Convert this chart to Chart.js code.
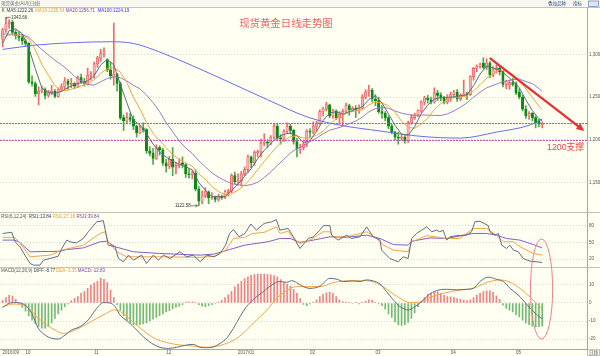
<!DOCTYPE html>
<html><head><meta charset="utf-8">
<script src="https://cdn.jsdelivr.net/npm/chart.js"></script>
<style>html,body{margin:0;padding:0;background:#fffff2;overflow:hidden}canvas{display:block}</style>
</head><body>
<canvas id="c" width="600" height="356"></canvas>
<script>
// ---------- candles (index 0 = 2016-09-22, one per trading day) ----------
const opens = [1318,1329,1336,1338,1326,1322,1320,1316,1313,1268, 1266,1254,1257,1259,1252,1255,1257,1251,1259,1262,
1269,1265,1266,1263,1273,1268,1266,1276,1277,1289, 1296,1301,1294,1282,1274,1277,1266,1226,1222,1226,
1224,1216,1208,1214,1212,1187,1184,1178,1191,1188, 1173,1169,1177,1168,1170,1173,1171,1160,1159,1161,
1142,1128,1134,1139,1132,1133,1130,1133,1132,1138, 1140,1158,1151,1152,1160,1165,1180,1173,1185,1186,
1196,1197,1196,1203,1216,1202,1201,1210,1216,1211, 1198,1189,1191,1195,1210,1209,1216,1219,1233,1236,
1241,1228,1234,1226,1230,1233,1240,1235,1237,1235, 1237,1250,1256,1258,1248,1246,1233,1231,1226,1216,
1209,1203,1202,1203,1199,1220,1226,1229,1234,1244, 1249,1247,1244,1255,1252,1249,1244,1249,1253,1256,
1248,1252,1254,1253,1274,1284,1286,1290,1285,1290, 1276,1282,1284,1280,1265,1264,1267,1266,1256,1250,
1236,1228,1231,1226,1222,1218];
const highs = [1331,1343.66,1341,1340,1329,1327,1324,1318,1314,1275, 1268,1262,1263,1261,1258,1264,1259,1261,1266,1273,
1271,1272,1267,1275,1277,1272,1284,1280,1291,1298, 1306,1308,1295,1291,1337,1278,1268,1229,1232,1231,
1228,1217,1217,1220,1213,1192,1190,1194,1193,1190, 1177,1181,1191,1173,1178,1180,1172,1166,1164,1165,
1145,1140,1144,1140,1138,1134,1136,1135,1141,1142, 1160,1162,1160,1163,1168,1182,1181,1187,1188,1201,
1207,1200,1205,1219,1218,1206,1212,1220,1218,1212, 1202,1195,1198,1212,1213,1221,1222,1235,1238,1244,
1242,1236,1235,1233,1236,1243,1242,1239,1240,1241, 1253,1259,1264,1260,1253,1250,1240,1233,1228,1218,
1210,1209,1206,1205,1222,1230,1231,1235,1246,1251, 1252,1250,1261,1258,1255,1251,1253,1256,1258,1259,
1254,1270,1256,1275,1285,1288,1290,1296,1295,1292, 1286,1288,1286,1281,1270,1270,1272,1268,1260,1252,
1240,1233,1232,1228,1224,1221];
const lows = [1309,1326,1331,1323,1318,1316,1312,1310,1266,1263, 1251,1241,1255,1248,1250,1253,1249,1250,1257,1260,
1259,1261,1260,1261,1266,1263,1264,1270,1272,1285, 1292,1297,1280,1271,1264,1257,1224,1211,1220,1221,
1212,1203,1207,1209,1184,1181,1171,1177,1182,1170, 1162,1166,1158,1160,1167,1167,1156,1155,1154,1140,
1122.58,1125,1132,1125,1130,1127,1128,1130,1131,1134, 1138,1148,1147,1146,1158,1162,1167,1170,1180,1180,
1193,1191,1194,1201,1199,1195,1198,1208,1207,1195, 1180,1184,1188,1192,1202,1207,1210,1218,1228,1234,
1226,1225,1224,1219,1217,1232,1229,1233,1226,1231, 1236,1248,1251,1244,1240,1231,1225,1222,1213,1207,
1200,1195,1200,1196,1197,1218,1224,1227,1232,1241, 1243,1242,1243,1246,1246,1242,1242,1245,1250,1245,
1246,1251,1247,1252,1270,1280,1284,1283,1282,1273, 1274,1278,1276,1262,1260,1259,1263,1253,1248,1234,
1225,1224,1222,1214,1215,1214];
const closes = [1329,1336,1338,1326,1322,1320,1316,1313,1268,1266, 1254,1257,1259,1252,1255,1257,1251,1259,1262,1269,
1265,1266,1263,1273,1268,1266,1276,1277,1289,1296, 1301,1304,1282,1275,1277,1266,1226,1222,1226,1224,
1216,1208,1214,1212,1187,1184,1178,1191,1188,1173, 1169,1177,1168,1170,1173,1171,1160,1159,1161,1142,
1128,1134,1139,1132,1133,1130,1133,1132,1139,1140, 1158,1151,1152,1160,1165,1180,1173,1185,1186,1196,
1197,1196,1203,1216,1202,1201,1210,1216,1211,1198, 1189,1191,1195,1210,1209,1216,1219,1233,1236,1241,
1228,1234,1226,1230,1233,1240,1235,1237,1235,1237, 1250,1256,1258,1248,1246,1233,1231,1226,1216,1209,
1203,1202,1203,1199,1220,1226,1229,1234,1244,1249, 1247,1244,1255,1252,1249,1244,1249,1253,1256,1248,
1252,1254,1253,1274,1284,1286,1288,1285,1290,1276, 1282,1284,1280,1265,1268,1267,1265,1255,1250,1236,
1228,1231,1226,1220,1219,1219];

// ---------- moving averages: [index, value] ----------
const ma5Points = [[0,1313],[2,1328],[4,1330.2],[6,1324.4],[8,1307.8],[10,1283.4],[12,1260.8],[14,1255.4],[16,1254.8],[18,1256.8],[20,1261.2],[22,1265],[24,1267],[26,1269.2],[28,1275.2],[30,1287.8],[32,1294.4],[34,1287.8],[36,1265.2],[38,1243.4],[40,1222.8],[42,1217.6],[44,1207.4],[46,1195],[48,1185.6],[50,1179.8],[52,1175],[54,1171.4],[56,1168.4],[58,1164.8],[60,1150],[62,1140.8],[64,1133.2],[66,1133.4],[68,1133.4],[70,1140.4],[72,1148],[74,1157.2],[76,1166],[78,1177.8],[80,1187.4],[82,1195.6],[84,1202.8],[86,1206.4],[88,1208],[90,1204.8],[92,1196.8],[94,1198.8],[96,1209.8],[98,1222.6],[100,1231.4],[102,1233],[104,1230.2],[106,1232.8],[108,1236],[110,1238.8],[112,1247.2],[114,1251.6],[116,1243.2],[118,1230.4],[120,1217],[122,1206.6],[124,1205.4],[126,1215.4],[128,1230.6],[130,1240.6],[132,1247.8],[134,1249.4],[136,1249.8],[138,1250.2],[140,1251.6],[142,1252.6],[144,1263.4],[146,1277],[148,1286.6],[150,1284.2],[152,1282.4],[154,1275.8],[156,1269],[158,1261],[160,1246.8],[162,1234.2],[164,1224.8],[165,1222.26]];
const ma10Points = [[0,1320],[2,1323],[4,1323],[6,1323],[8,1318.4],[10,1305.3],[12,1288.5],[14,1275.5],[16,1263.5],[18,1257.5],[20,1258.2],[22,1260.4],[24,1263],[26,1266.2],[28,1270.6],[30,1278],[32,1283.3],[34,1284.7],[36,1279.3],[38,1267.2],[40,1249.7],[42,1236],[44,1220.3],[46,1207.6],[48,1199],[50,1190.5],[52,1182.7],[54,1177],[56,1172.9],[58,1169],[60,1160],[62,1153.7],[64,1145.3],[66,1139.4],[68,1135.2],[70,1136.9],[72,1140.7],[74,1147],[76,1155.1],[78,1165.2],[80,1174.5],[82,1183.8],[84,1192.7],[86,1199],[88,1203.6],[90,1204.7],[92,1202],[94,1202.6],[96,1205.3],[98,1210.2],[100,1217.9],[102,1224.6],[104,1228.6],[106,1232.5],[108,1233.8],[110,1235.2],[112,1240.8],[114,1244.5],[116,1243.1],[118,1239.9],[120,1232.2],[122,1221.7],[124,1214.5],[126,1213.6],[128,1218.3],[130,1225.5],[132,1235.4],[134,1242.5],[136,1247],[138,1249.4],[140,1250.6],[142,1251.3],[144,1257.2],[146,1264.6],[148,1272.3],[150,1277.2],[152,1282.1],[154,1280.6],[156,1276.2],[158,1270],[160,1259.6],[162,1249.6],[164,1239.4],[165,1235.54]];
const ma20Points = [[0,1324],[2,1324],[4,1323.5],[6,1323.5],[8,1320.2],[10,1312.7],[12,1305.8],[14,1299.5],[16,1293.3],[18,1288],[20,1281.8],[22,1274.5],[24,1269.3],[26,1264.9],[28,1264.1],[30,1268.1],[32,1271.9],[34,1273.9],[36,1272.8],[38,1268.9],[40,1263.9],[42,1259.7],[44,1252.5],[46,1243.5],[48,1233.1],[50,1220.1],[52,1209.4],[54,1198.7],[56,1190.3],[58,1184],[60,1175.3],[62,1168.2],[64,1161.2],[66,1156.2],[68,1152.1],[70,1148.5],[72,1147.2],[74,1146.2],[76,1147.3],[78,1150.2],[80,1155.7],[82,1162.3],[84,1169.9],[86,1177.1],[88,1184.4],[90,1189.6],[92,1192.9],[94,1197.7],[96,1202.2],[98,1206.9],[100,1211.3],[102,1213.3],[104,1215.6],[106,1218.9],[108,1222],[110,1226.6],[112,1232.7],[114,1236.6],[116,1237.8],[118,1236.9],[120,1233.7],[122,1231.3],[124,1229.5],[126,1228.4],[128,1229.1],[130,1228.9],[132,1228.6],[134,1228.5],[136,1230.3],[138,1233.9],[140,1238.1],[142,1243.4],[144,1249.9],[146,1255.8],[148,1260.9],[150,1263.9],[152,1266.7],[154,1268.9],[156,1270.4],[158,1271.2],[160,1268.4],[162,1265.9],[164,1260],[165,1256.71]];
const ma100Points = [[0,1306],[10,1311],[22,1314],[33,1315],[40,1313],[48,1303],[58,1287],[69,1268],[81,1247],[93,1227],[102,1218],[116,1210],[128,1204],[140,1202],[151,1209],[161,1217],[165,1224.19]];

// ---------- RSI(6,12,24) ----------
const rsi6Points = [[0,66],[2.8,68],[3.8,51],[5.3,42],[6.8,27],[8.4,12],[9.4,9],[11.4,9],[12.5,18],[14.5,21],[17,25],[18.1,39],[19.6,54],[20.6,51],[22.6,49],[24.7,57],[26.2,69],[28.8,87],[30.8,89],[31.6,66],[32.3,45],[34.4,42],[35.4,21],[36.9,15],[38.5,27],[40,18],[42.5,27],[44,12],[46.1,27],[47.6,18],[49.2,27],[51.2,21],[54.2,33],[56.3,24],[58.3,27],[60.4,15],[62.4,27],[64.7,24],[66.5,30],[68.2,45],[69.4,66],[70.6,73],[72.3,60],[74.1,66],[75.9,83],[77.6,72],[80,84],[82.3,87],[83.7,91],[84.8,72],[87.3,75],[88.9,60],[90.9,39],[93.5,57],[95,60],[97,72],[98.1,80],[100.1,80],[100.6,63],[102.6,54],[105.2,63],[106.7,57],[109.3,60],[111.3,78],[112.3,69],[113.3,60],[115.4,54],[115.9,36],[118.4,21],[121,15],[122.5,24],[124,21],[125.1,57],[126.6,66],[129.7,78],[131.2,69],[132.7,72],[133.7,69],[134.7,72],[135.8,54],[136.8,60],[138.8,62],[141.9,63],[143.4,69],[144.4,87],[146,88],[148.5,80],[149,69],[150.5,63],[151.6,66],[152.6,45],[154.1,39],[155.1,45],[156.2,36],[157.7,33],[159.2,21],[161.3,16],[163.3,15],[165,13.84]];
const rsi12Points = [[0,59],[3.5,59],[5,51],[8.4,24],[14.5,27],[18.1,36],[24.7,45],[29.8,66],[31.3,69],[32.3,51],[34.9,33],[37.9,24],[48,24],[60.4,23],[64.7,25],[68.2,36],[70.6,57],[74.1,59],[76.4,66],[80,68],[83.7,78],[84.8,66],[87.3,70],[88.9,57],[90.9,48],[93.9,54],[98,69],[100.1,69],[101.1,60],[105.2,60],[111.3,69],[114.4,57],[116.4,45],[119.5,36],[124,33],[125.1,51],[129.7,62],[135.8,57],[139.8,57],[143.9,75],[148,75],[151,63],[153.1,51],[156.2,51],[158.2,42],[162.3,30],[165,27.18]];
const rsi24Points = [[0,54],[3.6,54],[5,51],[8.4,33],[17.6,34],[19.6,37],[24.7,40],[29.8,51],[31.8,52],[34.4,42],[40,33],[48,30],[60.4,27],[64.7,29],[69.4,37],[74.1,45],[81.1,51],[84.8,57],[87.9,57],[90.9,50],[95,54],[100.1,60],[105.2,59],[111.3,63],[115.4,57],[119.5,46],[124,45],[125.1,52],[130.7,58],[135.8,57],[143.9,66],[148,66],[151,63],[154.1,57],[158.2,54],[162.3,46],[165,39.84]];

// ---------- MACD(12,26,9) ----------
const diffPoints = [[0,-2.5],[2.3,0],[4.3,0.2],[6.8,-1.1],[8.9,-5.7],[10.9,-14],[13,-17.8],[15,-19.6],[17,-20],[19.1,-17.8],[21.1,-15],[23.7,-13.1],[26.2,-9.4],[28.8,-2.9],[30.8,0.2],[32.8,0],[34.4,-2],[35.9,-6.7],[38.4,-10.4],[41,-15],[43,-18.7],[45.6,-22.4],[48.1,-24.6],[50.7,-25.2],[53.2,-24.6],[56.3,-23.3],[58.3,-23],[60.4,-24.6],[62.4,-24.8],[64.4,-24.4],[66.5,-22.4],[68.5,-19.6],[70.6,-14],[72.6,-7.6],[74.6,-2],[76.7,2],[79.7,6.3],[82.8,10.6],[84.8,11.9],[86.9,11.5],[88.4,12.4],[89.9,11.3],[91.5,9.5],[94,8.1],[97.1,9.4],[100.1,13.7],[102.2,13.2],[104.2,11.9],[107.2,12.2],[109.3,11.9],[111.3,12.8],[113.4,12.2],[115.4,10.6],[117.4,6.3],[119.5,1.7],[121.5,-2],[124.1,-3.9],[126.1,-2],[128.1,0.7],[130.2,4.4],[132.7,6.9],[135.8,7.6],[138.8,7.3],[141.9,7.6],[143.9,8.1],[146,11.9],[148.5,14.3],[151.1,13.1],[153.1,11.9],[155.2,8.1],[158.2,3.5],[161.3,-2.9],[163.3,-6.4],[165,-8.77]];
const deaPoints = [[0,-2],[3.3,-0.6],[7.4,-2],[10.4,-7.6],[13.5,-12.2],[16,-15],[18.6,-16.9],[21.6,-15.4],[25.2,-12.2],[28.8,-8.5],[31.8,-5.7],[33.9,-3.9],[35.4,-4.2],[38,-7.6],[41,-12.2],[44.1,-16.9],[47.1,-20.2],[50.2,-22],[54.2,-23.3],[58.3,-23.9],[62.4,-24.6],[65.5,-24],[68.5,-22.4],[71.6,-19.6],[74.6,-15],[77.7,-9.4],[80.8,-3.9],[83.8,2.6],[86.9,6.9],[89.9,9.1],[93,9.1],[97.1,9.1],[101.1,11.3],[106.2,12.4],[111.3,12.4],[115.4,10],[118.5,6.3],[121.5,2.6],[124.6,0.2],[127.6,0.5],[130.7,3.1],[134.8,5.4],[139.9,7.2],[143.9,8.1],[148,11.3],[152.1,12.8],[155.2,11.5],[158.2,8.1],[161.3,3.2],[163.3,-0.2],[165,-3.35]];
const macdHist = [1.5,3.0,4.2,3.8,2.0,-0.5,-2.5,-4.5,-7,-9.5, -11.5,-13,-14,-14,-13,-11,-8.5,-6,-4,-2,
-0.5,1.3,2.6,3.5,5.4,6.3,8.1,10,11,12, 13.7,13.1,11.3,7.2,3,-1,-4,-7,-9.5,-11,
-12,-12.2,-12,-11.5,-11,-10,-9,-8,-7,-6, -5,-4.2,-3.3,-2.5,-1.8,-1,0.5,0.7,0.7,0.3,
-1,-1.8,-2,-1.5,-1,-0.3,0.5,1.5,3,4.5, 6.5,9,10.5,12,13.5,14.5,15.3,15.8,16,16.1,
16.1,15.9,15.6,15.2,14.5,13,11.5,10.5,9.4,7.5, 5.4,2.5,-0.8,-1.5,-0.5,0.5,1.7,3.5,4.8,5.7,
6.1,5.4,3.5,1.7,0.8,0.5,0.3,-0.3,0.3,-0.5, 0.3,1,1.7,1.5,0.5,-0.5,-1.5,-3.5,-6,-8,
-10.5,-12.2,-12.4,-12,-10.8,-8.5,-5.5,-2,1,3, 4.8,5.5,6,6.3,5.2,4.2,3.5,3.4,3,2.5,
2,1.6,1.3,1.8,3,4.4,5.4,6.3,6.7,6.8, 5.9,3.9,2,-1.2,-3,-4,-5,-6.5,-7.8,-9.5,
-11,-12,-12.8,-13.2,-13.2,-12.83];

// ---------- axes / ticks ----------
const monthTicks = [0,7,28,50,72,94,114,137,157];
const monthLabels = ['2016/09','10','11','12','2017/01','02','03','04','05'];
const priceTicks = [1150,1200,1250,1300];
const rsiTicks = [80,50,20];
const macdTicks = [10,0,-10,-20];
const supportLevels = [1220,1200];
const trendArrow = [[149.2,1295.3],[177.9,1210.3]];
const focusOval = {center:164.8, halfWidth:3.4, rsiTop:56, macdBottom:-20};

// ---------- build ----------
const xy = pts => pts.map(([x,y]) => ({x, y}));
const idx = opens.map((_, i) => i);
const isUp = idx.map(i => closes[i] >= opens[i]);
const last = a => a[a.length-1][1].toFixed(2);
const FONT = '"Liberation Sans","Noto Sans CJK SC",sans-serif';

function txt(ctx, s, x, y, color, size, align, family) {
  ctx.font = size + 'px ' + (family || FONT);
  ctx.fillStyle = color; ctx.textAlign = align || 'left'; ctx.textBaseline = 'middle';
  ctx.fillText(s, x, y);
}
function yAxis(extra) {
  return Object.assign({
    type:'linear', position:'right', stack:'panels', beginAtZero:false,
    grid:{color:'#d9d9cf', lineWidth:1, drawTicks:false},
    border:{display:true, color:'#a8a8a0', dash:[1,2]},
    ticks:{padding:2, color:'#555', font:{size:4.5, family:'Liberation Sans'}},
  }, extra);
}
const fitY = s => { s.width = 13; s.paddingTop = 0; s.paddingBottom = 0; };

const lineDs = (pts, axis, color, extra) => Object.assign({
  type:'line', data: xy(pts), yAxisID: axis, borderColor: color, borderWidth: 1,
  pointRadius: 0, fill: false, tension: 0, order: 0
}, extra || {});

const datasets = [
  lineDs(ma5Points, 'yMain', '#5d6e82'),
  lineDs(ma10Points, 'yMain', '#f7a545'),
  lineDs(ma20Points, 'yMain', '#9c7cc4'),
  lineDs(ma100Points, 'yMain', '#6c6cf0', {cubicInterpolationMode:'monotone'}),
  {type:'bar', data: idx.map(i => ({x:i, y:[opens[i], closes[i]]})), yAxisID:'yMain', grouped:false,
   barThickness:2.4, minBarLength:1, borderSkipped:false, borderWidth:0.6,
   backgroundColor: isUp.map(u => u ? '#fab0b0' : '#0b8a12'),
   borderColor: isUp.map(u => u ? '#ec4b4b' : '#0b8a12'), order: 2},
  {type:'bar', data: idx.map(i => ({x:i, y:[lows[i], highs[i]]})), yAxisID:'yMain', grouped:false,
   barThickness:1, borderWidth:0, backgroundColor: isUp.map(u => u ? '#f06a6a' : '#4fa84f'), order: 3},
  lineDs(rsi6Points, 'yRsi', '#5d6e82'),
  lineDs(rsi12Points, 'yRsi', '#f7a545'),
  lineDs(rsi24Points, 'yRsi', '#8a5cc4'),
  lineDs(diffPoints, 'yMacd', '#5d6e82', {cubicInterpolationMode:'monotone'}),
  lineDs(deaPoints, 'yMacd', '#f7a545', {cubicInterpolationMode:'monotone'}),
  {type:'bar', data: idx.map(i => ({x:i, y:macdHist[i]})), yAxisID:'yMacd', grouped:false,
   barThickness:1, borderWidth:0, backgroundColor: macdHist.map(v => v >= 0 ? '#f48080' : '#72bc72'), order: 3},
];

const decor = {
  id:'decor',
  beforeDraw(chart) {
    const ctx = chart.ctx;
    ctx.save();
    ctx.fillStyle = '#fffff2'; ctx.fillRect(0, 0, 600, 356);
    ctx.fillStyle = '#f7f7f0'; ctx.fillRect(0, 0, 600, 7.3);
    ctx.strokeStyle = '#c4c4bc'; ctx.lineWidth = 1;
    ctx.beginPath(); ctx.moveTo(0, 7.5); ctx.lineTo(600, 7.5); ctx.stroke();
    ctx.restore();
  },
  beforeDatasetsDraw(chart) {
    const {ctx, scales} = chart;
    ctx.save();
    ctx.strokeStyle = '#c4c4bc'; ctx.lineWidth = 1;
    [scales.yRsi.top, scales.yMacd.top].forEach(y => {
      const yy = Math.round(y) + 0.5;
      ctx.beginPath(); ctx.moveTo(0, yy); ctx.lineTo(600, yy); ctx.stroke();
    });
    ctx.restore();
  },
  afterDatasetsDraw(chart) {
    const {ctx, chartArea, scales:{x, yMain, yRsi, yMacd}} = chart;
    ctx.save();
    // support levels (pink-magenta dotted)
    ctx.fillStyle = '#d24db2';
    supportLevels.forEach(v => {
      const y = Math.round(yMain.getPixelForValue(v));
      for (let px = Math.round(chartArea.left); px < chartArea.right; px += 3) ctx.fillRect(px, y, 2, 1);
    });
    // trend arrow
    const x1 = x.getPixelForValue(trendArrow[0][0]), y1 = yMain.getPixelForValue(trendArrow[0][1]);
    const x2 = x.getPixelForValue(trendArrow[1][0]), y2 = yMain.getPixelForValue(trendArrow[1][1]);
    const ang = Math.atan2(y2 - y1, x2 - x1), hl = 8, hw = 3.6;
    const bx = x2 - hl * Math.cos(ang), by = y2 - hl * Math.sin(ang);
    ctx.strokeStyle = '#ee2e2e'; ctx.fillStyle = '#ee2e2e'; ctx.lineWidth = 2.3; ctx.lineCap = 'round';
    ctx.beginPath(); ctx.moveTo(x1, y1); ctx.lineTo(bx, by); ctx.stroke();
    ctx.beginPath(); ctx.moveTo(x2, y2);
    ctx.lineTo(bx + hw * Math.sin(ang), by - hw * Math.cos(ang));
    ctx.lineTo(bx - hw * Math.sin(ang), by + hw * Math.cos(ang));
    ctx.closePath(); ctx.fill();
    // oval around the latest indicator readings
    const cx = x.getPixelForValue(focusOval.center);
    const rx = x.getPixelForValue(focusOval.center + focusOval.halfWidth) - cx;
    const yt = yRsi.getPixelForValue(focusOval.rsiTop), yb = yMacd.getPixelForValue(focusOval.macdBottom);
    ctx.strokeStyle = '#f08585'; ctx.lineWidth = 1;
    ctx.beginPath(); ctx.ellipse(cx, (yt + yb) / 2, rx, (yb - yt) / 2, 0, 0, Math.PI * 2); ctx.stroke();
    // extreme price markers
    const hi = highs.indexOf(Math.max(...highs)), lo = lows.indexOf(Math.min(...lows));
    const hx = x.getPixelForValue(hi), hy = yMain.getPixelForValue(highs[hi]);
    const lx = x.getPixelForValue(lo), ly = yMain.getPixelForValue(lows[lo]);
    ctx.strokeStyle = '#444'; ctx.lineWidth = 0.7;
    ctx.beginPath(); ctx.moveTo(hx + 0.8, hy + 1.5); ctx.lineTo(hx + 0.8, hy); ctx.lineTo(hx + 4.5, hy); ctx.stroke();
    txt(ctx, highs[hi].toFixed(2), hx + 5, hy, '#333', 4.5);
    ctx.beginPath(); ctx.moveTo(lx - 7.5, ly); ctx.lineTo(lx - 1.5, ly); ctx.stroke();
    ctx.beginPath(); ctx.moveTo(lx - 3, ly - 1.2); ctx.lineTo(lx - 1.5, ly); ctx.lineTo(lx - 3, ly + 1.2); ctx.stroke();
    txt(ctx, lows[lo].toFixed(2), lx - 8, ly, '#333', 4.5, 'right');
    ctx.restore();
  },
  afterDraw(chart) {
    const {ctx, scales:{yMain, yRsi, yMacd}} = chart;
    ctx.save();
    // header strip
    txt(ctx, '现货黄金(AU)(日线)', 1, 3.8, '#707070', 4.5);
    txt(ctx, '叠加品种', 548, 3.8, '#2c4a8a', 4.5);
    txt(ctx, '指标', 573, 3.8, '#2c4a8a', 4.5);
    ctx.fillStyle = '#dde6f4'; ctx.strokeStyle = '#6a85b5'; ctx.lineWidth = 0.7;
    ctx.fillRect(588.5, 1, 10, 5.5); ctx.strokeRect(588.5, 1, 10, 5.5);
    // main legend
    const l1 = yMain.top + 3.4;
    txt(ctx, 'K', 1.8, l1, '#333', 4.5);
    txt(ctx, 'MA5:' + last(ma5Points), 6.5, l1, '#2f3f58', 4.5);
    txt(ctx, 'MA10:' + last(ma10Points), 35.2, l1, '#f0a030', 4.5);
    txt(ctx, 'MA20:' + last(ma20Points), 65.8, l1, '#7d45a8', 4.5);
    txt(ctx, 'MA100:' + last(ma100Points), 97.6, l1, '#3535f5', 4.5);
    // RSI legend
    const l2 = yRsi.top + 4.3;
    txt(ctx, 'RSI(6,12,24)', 1, l2, '#555', 4.5);
    txt(ctx, 'RSI1:' + last(rsi6Points), 28.7, l2, '#2f3f58', 4.5);
    txt(ctx, 'RSI2:' + last(rsi12Points), 52.4, l2, '#f0a030', 4.5);
    txt(ctx, 'RSI3:' + last(rsi24Points), 76.5, l2, '#7d45a8', 4.5);
    // MACD legend
    const l3 = yMacd.top + 3.7;
    txt(ctx, 'MACD(12,26,9)', 1, l3, '#555', 4.5);
    txt(ctx, 'DIFF:' + last(diffPoints), 33.7, l3, '#2f3f58', 4.5);
    txt(ctx, 'DEA:' + last(deaPoints), 56, l3, '#f0a030', 4.5);
    txt(ctx, 'MACD:' + macdHist[macdHist.length-1].toFixed(2), 77.7, l3, '#7d45a8', 4.5);
    // title and annotation
    txt(ctx, '现货黄金日线走势图', 239.2, 22.8, '#f26262', 10.4, 'left', '"Noto Sans CJK SC",sans-serif');
    txt(ctx, '1200支撑', 547, 148, '#f04646', 8.8);
    // bottom-right period box
    ctx.strokeStyle = '#a0a0a0'; ctx.lineWidth = 0.7;
    ctx.strokeRect(587.5, 349.8, 12, 5.8);
    txt(ctx, '日线', 589, 352.8, '#555', 4.5);
    ctx.restore();
  }
};

new Chart(document.getElementById('c'), {
  type: 'line',
  data: { datasets },
  options: {
    responsive: false, animation: false, devicePixelRatio: 1,
    layout: { padding: { top: 7.3, left: 0, right: 0, bottom: 0 } },
    plugins: { legend: { display: false }, tooltip: { enabled: false } },
    scales: {
      x: {
        type: 'linear', min: -0.8, max: 178.7, offset: false, position: 'bottom',
        grid: { display: false, drawTicks: false },
        border: { display: true, color: '#a8a8a0' },
        ticks: { autoSkip: false, maxRotation: 0, minRotation: 0, align: 'start', padding: 1,
                 color: '#555', font: { size: 4.5, family: 'Liberation Sans' },
                 callback: v => { const k = monthTicks.indexOf(v); return k >= 0 ? monthLabels[k] : ''; } },
        afterBuildTicks: s => { s.ticks = monthTicks.map(v => ({ value: v })); },
        afterFit: s => { s.height = 6.7; s.paddingLeft = 0; s.paddingRight = 0; }
      },
      yMain: yAxis({ weight: 1, stackWeight: 204.7, min: 1115.3, max: 1355.4,
        afterBuildTicks: s => { s.ticks = priceTicks.map(v => ({ value: v })); }, afterFit: fitY }),
      yRsi: yAxis({ weight: 2, stackWeight: 55.3, min: 5.1, max: 104.6,
        afterBuildTicks: s => { s.ticks = rsiTicks.map(v => ({ value: v })); }, afterFit: fitY }),
      yMacd: yAxis({ weight: 3, stackWeight: 82, min: -25.7, max: 19.8,
        afterBuildTicks: s => { s.ticks = macdTicks.map(v => ({ value: v })); }, afterFit: fitY })
    }
  },
  plugins: [decor]
});
</script>
</body></html>
